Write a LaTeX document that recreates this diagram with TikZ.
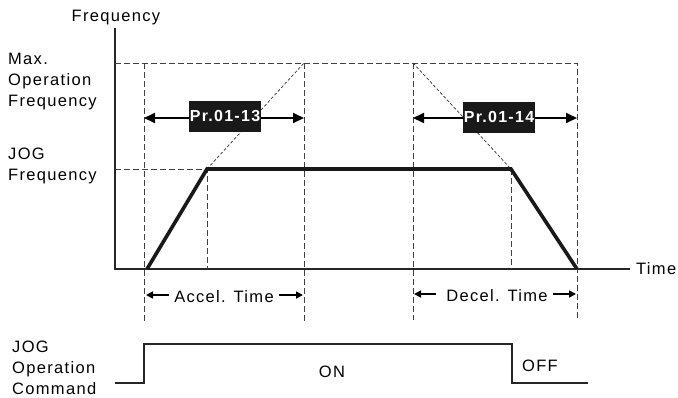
\documentclass[tikz,border=0pt]{standalone}
\usepackage{fontspec}
\setmainfont{Liberation Sans}[LetterSpace=8]
\usetikzlibrary{arrows.meta}

\begin{document}
\begin{tikzpicture}[x=1pt, y=-1pt,
  lbl/.style={font=\fontsize{16.5}{21}\selectfont, align=left, inner sep=0pt},
  guide/.style={line width=0.9pt, black!75, dash pattern=on 6pt off 3pt},
  slope/.style={line width=0.7pt, black!80, dash pattern=on 3pt off 2pt},
  axis/.style={line width=1.8pt, black!85},
  speed/.style={line width=3.6pt, black!90, line join=miter},
  span/.style={line width=1.8pt, {Triangle[length=11pt,width=10pt]}-{Triangle[length=11pt,width=10pt]}},
  tip/.style={line width=1.6pt, -{Triangle[length=7pt,width=7pt]}},
  prbox/.style={fill=black!90, text=white, font=\bfseries\fontsize{16}{16}\selectfont, inner xsep=1pt, minimum height=31pt},
  signal/.style={line width=1.4pt, black!85}]
\useasboundingbox (0,0) rectangle (678,397);

% axes
\coordinate (O) at (115,269);
\coordinate (ytop) at (115,28);
\coordinate (xend) at (630,269);
\draw[axis] (ytop) -- (O) -- (xend);
\node[lbl, anchor=west] (time) at (636,269) {Time};
\node[lbl] (freq) at (116,18) {Frequency};

% levels
\coordinate (m0) at (115,63);  \coordinate (m1) at (577,63);
\coordinate (j0) at (115,169); \coordinate (j1) at (207,169);
\node[lbl, anchor=west] (maxf) at (8,82) {Max.\\Operation\\Frequency};
\node[lbl, anchor=west] (jogf) at (8,166) {JOG\\Frequency};

% time marks
\coordinate (a0) at (144,63);  \coordinate (a0b) at (144,322);
\coordinate (a1b) at (207,269);
\coordinate (a2) at (304,63);  \coordinate (a2b) at (304,322);
\coordinate (d0) at (413,63);  \coordinate (d0b) at (413,320);
\coordinate (d1) at (511,169); \coordinate (d1b) at (511,269);
\coordinate (d2b) at (577,320);

\draw[guide] (m0) -- (m1) -- (d2b);
\draw[guide] (j0) -- (j1) -- (a1b);
\draw[guide] (a0) -- (a0b);
\draw[guide] (a2) -- (a2b);
\draw[guide] (d0) -- (d0b);
\draw[guide] (d1) -- (d1b);
\draw[slope] (j1) -- (a2);
\draw[slope] (d0) -- (d1);

% speed curve
\coordinate (s0) at (147,269);
\coordinate (s3) at (577,269);
\draw[speed] (s0) -- (j1) -- (d1) -- (s3);

% parameter spans
\coordinate (p0) at (144,118); \coordinate (p1) at (304,118);
\coordinate (q0) at (413,118); \coordinate (q1) at (577,118);
\draw[span] (p0) -- (p1);
\draw[span] (q0) -- (q1);
\node[prbox] (pr13) at (225,116) {Pr.01-13};
\node[prbox] (pr14) at (499,117) {Pr.01-14};

% accel / decel
\node[lbl, anchor=base] (acc) at (224,302) {Accel. Time};
\node[lbl, anchor=base] (dec) at (497,301) {Decel. Time};
\coordinate (acc0) at (146,295); \coordinate (acc1) at (303,295);
\coordinate (dec0) at (414,294); \coordinate (dec1) at (576,294);
\draw[tip] ([xshift=-5pt]acc.west |- acc0) -- (acc0);
\draw[tip] ([xshift=5pt]acc.east |- acc1) -- (acc1);
\draw[tip] ([xshift=-10pt]dec.west |- dec0) -- (dec0);
\draw[tip] ([xshift=5pt]dec.east |- dec1) -- (dec1);

% jog command
\node[lbl, anchor=west] (jogc) at (12,368) {JOG\\Operation\\Command};
\coordinate (c0) at (115,383); \coordinate (c1) at (144,383);
\coordinate (c2) at (144,344); \coordinate (c3) at (512,344);
\coordinate (c4) at (512,383); \coordinate (c5) at (588,383);
\draw[signal] (c0) -- (c1) -- (c2) -- (c3) -- (c4) -- (c5);
\node[lbl] (on) at (332,372) {ON};
\node[lbl] (off) at (540,366) {OFF};
\end{tikzpicture}
\end{document}
